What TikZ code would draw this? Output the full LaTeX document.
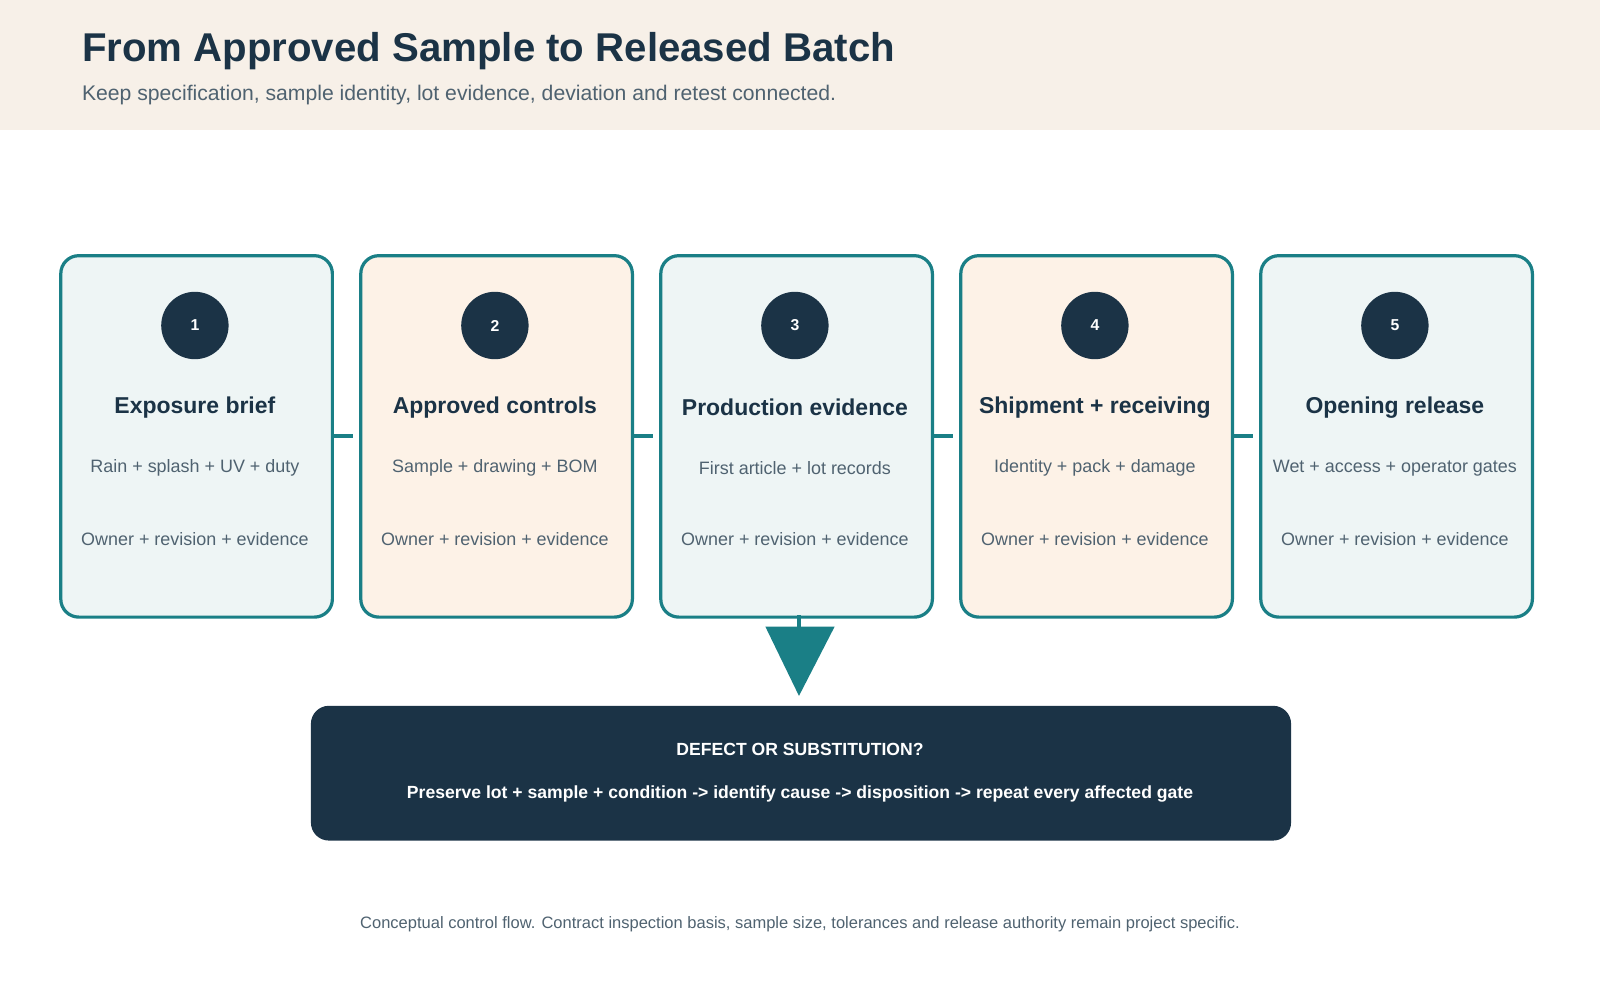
\documentclass[tikz,border=0pt]{standalone}
\usepackage{fontspec}
\setmainfont{Liberation Sans}
\usetikzlibrary{calc}
\usetikzlibrary{positioning}
\definecolor{teal}{HTML}{1A7F86}
\definecolor{navy}{HTML}{1B3346}
\definecolor{band}{HTML}{F7F0E8}
\definecolor{cool}{HTML}{EEF5F5}
\definecolor{warm}{HTML}{FDF2E7}
\definecolor{grey}{HTML}{4F6270}

\begin{document}
\begin{tikzpicture}[%
  x=0.01cm, y=-0.01cm,
  card/.style={draw=teal, line width=0.9pt, rounded corners=5pt,
    minimum width=2.66cm, minimum height=3.54cm, anchor=north west},
  badge/.style={circle, fill=navy, minimum size=0.66cm, inner sep=0pt,
    text=white, font=\fontsize{4.4}{5}\selectfont\bfseries},
  head/.style={text=navy, font=\fontsize{6.4}{7.5}\selectfont\bfseries},
  body/.style={text=grey, font=\fontsize{5}{6}\selectfont},
  link/.style={draw=teal, line width=1.1pt},
]

  \useasboundingbox (0,0) rectangle (1568,980);
  \fill[band] (0,0) rectangle (1568,127);

  \node[anchor=west, text=navy, font=\fontsize{11.2}{13}\selectfont\bfseries]
    (title) at (68,50) {From Approved Sample to Released Batch};
  \node[anchor=west, text=grey, font=\fontsize{5.9}{7}\selectfont]
    (subtitle) at (68,93) {Keep specification, sample identity, lot evidence, deviation and retest connected.};

  \foreach \i/\x/\fc/\ttl/\txt in {%
    1/58/cool/Exposure brief/Rain + splash + UV + duty,
    2/352/warm/Approved controls/Sample + drawing + BOM,
    3/646/cool/Production evidence/First article + lot records,
    4/940/warm/Shipment + receiving/Identity + pack + damage,
    5/1234/cool/Opening release/Wet + access + operator gates}{
    \node[card, fill=\fc] (card\i) at (\x,249) {};
    \node[badge] (badge\i) at ($(\x,319)+(133,0)$) {\i};
    \node[head] (head\i) at ($(\x,399)+(133,0)$) {\ttl};
    \node[body] (text\i) at ($(\x,459)+(133,0)$) {\txt};
    \node[body] (owner\i) at ($(\x,528)+(133,0)$) {Owner + revision + evidence};
  }

  % short stubs between cards
  \foreach \i in {1,...,4}{
    \coordinate (stub\i) at ($(card\i.east)+(19,0)$);
    \draw[link] (card\i.east) -- (stub\i);
  }

  % decision box
  \node[fill=navy, rounded corners=5pt, minimum width=9.6cm, minimum height=1.32cm,
    anchor=north west] (gate) at (304,691) {};
  \node[text=white, font=\fontsize{4.9}{6}\selectfont\bfseries] (gatehead) at (784,734)
    {DEFECT OR SUBSTITUTION?};
  \node[text=white, font=\fontsize{4.9}{6}\selectfont\bfseries] (gatetext) at (784,778)
    {Preserve lot + sample + condition -> identify cause -> disposition -> repeat every affected gate};

  % arrow down into the gate
  \coordinate (stem) at (783,614);
  \coordinate (tip) at (783,682);
  \draw[link] (783,603) -- (stem);
  \fill[teal] (750,614) -- (818,614) -- (tip) -- cycle;

  \node[text=grey, font=\fontsize{4.6}{5.5}\selectfont] (footer) at (784,906)
    {Conceptual control flow. Contract inspection basis, sample size, tolerances and release authority remain project specific.};

\end{tikzpicture}
\end{document}
